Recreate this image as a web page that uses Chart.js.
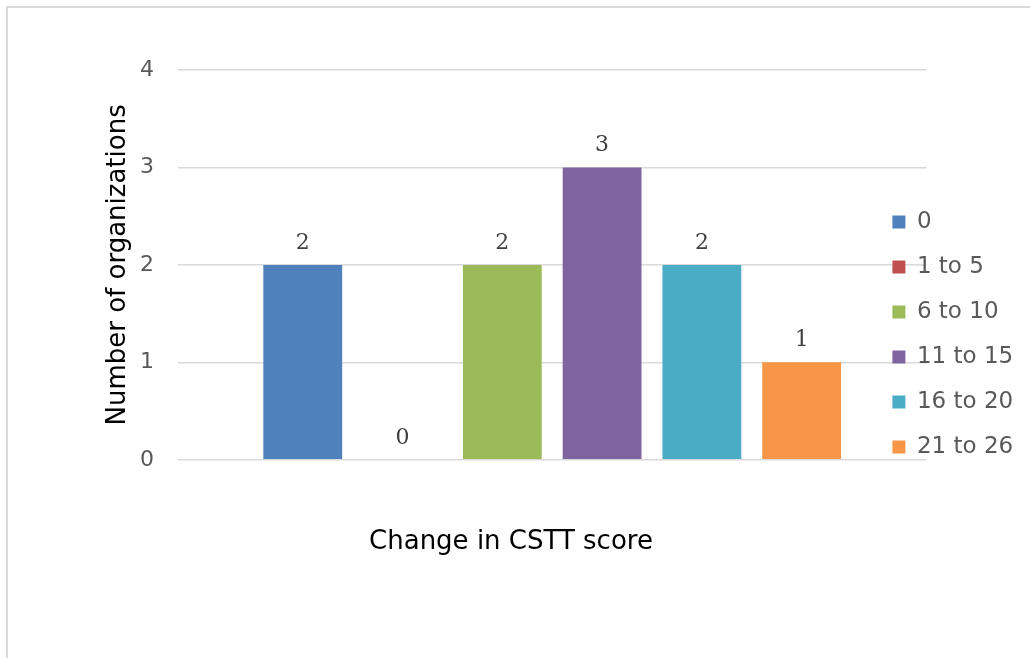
<!DOCTYPE html>
<html lang="en">
<head>
  <meta charset="UTF-8">
  <title>Change in CSTT score</title>
  <script src="https://cdn.jsdelivr.net/npm/chart.js"></script>
  <style>
    html, body { margin: 0; padding: 0; background: #fff; overflow: hidden; }
    #frame { position: absolute; left: 6px; top: 6px; width: 1200px; height: 800px;
             border-left: 2px solid #d9d9d9; border-top: 2px solid #d9d9d9; }
    #chart { position: absolute; left: 0; top: 0; }
  </style>
</head>
<body>
  <div id="frame"></div>
  <canvas id="chart" width="1030" height="658"></canvas>

  <script>
    // score bands (one dataset each) and number of organizations
    const bands = ['0', '1 to 5', '6 to 10', '11 to 15', '16 to 20', '21 to 26'];
    const counts = [2, 0, 2, 3, 2, 1];
    const colors = ['#4f81bd', '#c0504d', '#9bbb59', '#8064a2', '#4bacc6', '#f79646'];
    const yTicks = [0, 1, 2, 3, 4];

    const sans = 'DejaVu Sans';

    // value labels above each bar
    const valueLabels = {
      id: 'valueLabels',
      afterDatasetsDraw(chart) {
        const ctx = chart.ctx;
        ctx.save();
        ctx.font = '22px "DejaVu Serif"';
        ctx.fillStyle = '#404040';
        ctx.textAlign = 'center';
        ctx.textBaseline = 'alphabetic';
        chart.data.datasets.forEach((ds, i) => {
          const bar = chart.getDatasetMeta(i).data[0];
          ctx.fillText(String(ds.data[0]), bar.x, bar.y - 16);
        });
        ctx.restore();
      }
    };

    // Excel puts the legend slightly over the plot area
    const legendShift = {
      id: 'legendShift',
      afterLayout(chart) {
        const lg = chart.legend;
        lg.left -= 56;
        lg.right = chart.width;
        lg.width = lg.right - lg.left;
      }
    };

    new Chart(document.getElementById('chart'), {
      type: 'bar',
      data: {
        labels: [''],
        datasets: bands.map((b, i) => ({
          label: b,
          data: [counts[i]],
          backgroundColor: colors[i],
          barPercentage: 0.79,
          categoryPercentage: 0.8
        }))
      },
      options: {
        responsive: false,
        animation: false,
        layout: { padding: { top: 70, bottom: 59, left: 17.6, right: 25.6 } },
        scales: {
          x: { display: false },
          y: {
            min: 0,
            max: 4,
            afterBuildTicks(scale) { scale.ticks = yTicks.map(v => ({ value: v })); },
            afterFit(scale) { scale.width = 160.4; },
            ticks: { font: { family: sans, size: 22 }, color: '#595959', padding: 24 },
            grid: { color: '#d9d9d9', lineWidth: 1.5, drawTicks: false },
            border: { display: false },
            title: {
              display: true,
              text: 'Number of organizations',
              font: { family: sans, size: 26 },
              color: '#000',
              padding: { top: 84.8, bottom: 0 }
            }
          }
        },
        plugins: {
          legend: {
            position: 'right',
            maxWidth: 78,
            labels: {
              font: { family: sans, size: 23 },
              color: '#595959',
              boxWidth: 13,
              boxHeight: 13,
              padding: 22
            }
          },
          title: {
            display: true,
            position: 'bottom',
            text: 'Change in CSTT score',
            font: { family: sans, size: 26, weight: 'normal' },
            color: '#000',
            padding: { top: 67, bottom: 41 }
          },
          tooltip: { enabled: false }
        }
      },
      plugins: [valueLabels, legendShift]
    });
  </script>
</body>
</html>
